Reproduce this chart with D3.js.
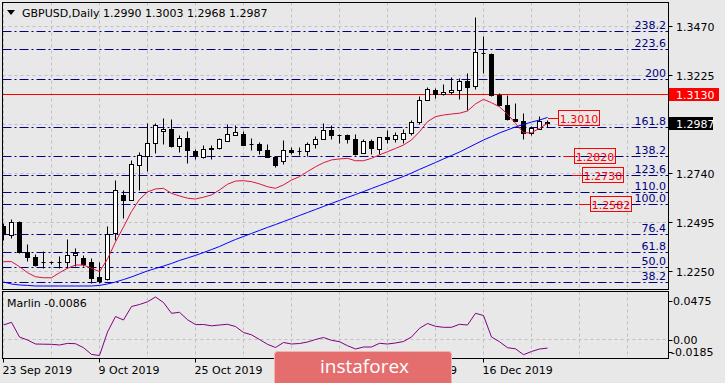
<!DOCTYPE html>
<html><head><meta charset="utf-8">
<script src="https://cdn.jsdelivr.net/npm/d3@7/dist/d3.min.js"></script>
<style>html,body{margin:0;padding:0;background:#e8e8e8;}svg{display:block;}</style>
</head><body><svg id="c" width="725" height="383"></svg>
<script>
// ---------- DATA ----------
const dates = ["23 Sep","24 Sep","25 Sep","26 Sep","27 Sep","30 Sep","1 Oct","2 Oct","3 Oct","4 Oct",
"7 Oct","8 Oct","9 Oct","10 Oct","11 Oct","14 Oct","15 Oct","16 Oct","17 Oct","18 Oct",
"21 Oct","22 Oct","23 Oct","24 Oct","25 Oct","28 Oct","29 Oct","30 Oct","31 Oct","1 Nov",
"4 Nov","5 Nov","6 Nov","7 Nov","8 Nov","11 Nov","12 Nov","13 Nov","14 Nov","15 Nov",
"18 Nov","19 Nov","20 Nov","21 Nov","22 Nov","25 Nov","26 Nov","27 Nov","28 Nov","29 Nov",
"2 Dec","3 Dec","4 Dec","5 Dec","6 Dec","9 Dec","10 Dec","11 Dec","12 Dec","13 Dec",
"16 Dec","17 Dec","18 Dec","19 Dec","20 Dec","23 Dec","24 Dec","26 Dec","27 Dec"];
const open = [1.2472,1.2431,1.2493,1.2346,1.2322,1.2296,1.2296,1.2294,1.2295,1.2328,
1.2317,1.2295,1.2219,1.2209,1.2439,1.2626,1.2603,1.2776,1.2821,1.2888,
1.2947,1.2957,1.2871,1.2912,1.2848,1.2818,1.2860,1.2863,1.2896,1.2927,
1.2929,1.2884,1.2884,1.2854,1.2818,1.2796,1.2854,1.2846,1.2846,1.2883,
1.2908,1.2950,1.2927,1.2927,1.2908,1.2838,1.2896,1.2859,1.2917,1.2908,
1.2908,1.2937,1.2992,1.3099,1.3149,1.3132,1.3141,1.3152,1.3192,1.3169,
1.3334,1.3330,1.3127,1.3074,1.3008,1.2995,1.2934,1.2957,1.2990];
const high = [1.2490,1.2507,1.2498,1.2386,1.2333,1.2349,1.2303,1.2325,1.2411,1.2363,
1.2328,1.2317,1.2295,1.2474,1.2705,1.2652,1.2801,1.2843,1.2987,1.2987,
1.3012,1.3007,1.2924,1.2945,1.2858,1.2879,1.2879,1.2912,1.2979,1.2977,
1.2944,1.2912,1.2893,1.2881,1.2821,1.2901,1.2868,1.2866,1.2891,1.2920,
1.2987,1.2975,1.2930,1.2930,1.2929,1.2908,1.2908,1.2917,1.2950,1.2940,
1.2954,1.3003,1.3122,1.3166,1.3161,1.3182,1.3213,1.3210,1.3232,1.3513,
1.3420,1.3334,1.3136,1.3127,1.3086,1.3037,1.2970,1.3020,1.3003];
const low = [1.2407,1.2416,1.2341,1.2303,1.2275,1.2267,1.2287,1.2267,1.2267,1.2275,
1.2278,1.2193,1.2193,1.2205,1.2404,1.2512,1.2603,1.2652,1.2747,1.2835,
1.2883,1.2866,1.2841,1.2788,1.2805,1.2811,1.2808,1.2858,1.2896,1.2927,
1.2878,1.2854,1.2831,1.2815,1.2767,1.2780,1.2830,1.2826,1.2821,1.2863,
1.2908,1.2904,1.2888,1.2888,1.2825,1.2838,1.2833,1.2833,1.2888,1.2891,
1.2888,1.2924,1.2979,1.3098,1.3111,1.3126,1.3132,1.3106,1.3050,1.3157,
1.3235,1.3119,1.3069,1.3003,1.2995,1.2904,1.2924,1.2957,1.2968];
const close = [1.2436,1.2493,1.2344,1.2322,1.2283,1.2294,1.2294,1.2296,1.2328,1.2338,
1.2288,1.2215,1.2200,1.2437,1.2654,1.2603,1.2783,1.2826,1.2888,1.2977,
1.2957,1.2871,1.2912,1.2851,1.2828,1.2858,1.2858,1.2904,1.2929,1.2939,
1.2878,1.2882,1.2851,1.2818,1.2775,1.2851,1.2841,1.2847,1.2884,1.2908,
1.2950,1.2927,1.2926,1.2904,1.2830,1.2896,1.2863,1.2917,1.2908,1.2924,
1.2937,1.2990,1.3101,1.3156,1.3132,1.3142,1.3152,1.3192,1.3164,1.3337,
1.3332,1.3127,1.3073,1.3007,1.2995,1.2937,1.2959,1.2995,1.2987];
const maRed = [1.2300,1.2300,1.2275,1.2245,1.2225,1.2220,1.2220,1.2245,1.2267,1.2283,
1.2283,1.2267,1.2250,1.2313,1.2398,1.2472,1.2549,1.2609,1.2646,1.2661,
1.2664,1.2639,1.2626,1.2615,1.2611,1.2620,1.2631,1.2656,1.2684,1.2700,
1.2702,1.2697,1.2686,1.2672,1.2664,1.2681,1.2705,1.2722,1.2747,1.2771,
1.2791,1.2805,1.2810,1.2813,1.2801,1.2801,1.2813,1.2830,1.2846,1.2862,
1.2879,1.2904,1.2945,1.2995,1.3020,1.3028,1.3033,1.3037,1.3048,1.3083,
1.3106,1.3089,1.3069,1.3032,1.2987,1.2940,1.2940,1.2962,1.2987];
const maBlue = [1.2199,1.2189,1.2184,1.2182,1.2179,1.2179,1.2179,1.2179,1.2179,1.2179,
1.2179,1.2179,1.2182,1.2189,1.2199,1.2211,1.2224,1.2239,1.2254,1.2266,
1.2278,1.2291,1.2306,1.2318,1.2331,1.2345,1.2360,1.2375,1.2393,1.2410,
1.2425,1.2440,1.2455,1.2470,1.2484,1.2499,1.2514,1.2529,1.2544,1.2559,
1.2574,1.2589,1.2604,1.2619,1.2633,1.2648,1.2663,1.2678,1.2693,1.2708,
1.2723,1.2740,1.2758,1.2775,1.2792,1.2810,1.2827,1.2844,1.2864,1.2884,
1.2904,1.2921,1.2939,1.2954,1.2969,1.2981,1.2993,1.3003,1.3016];
const marlin = [0.0145,0.0172,0.0025,-0.0005,-0.0045,-0.0047,-0.0048,-0.0055,-0.0039,-0.0042,
-0.0082,-0.0149,-0.0160,0.0075,0.0230,0.0195,0.0330,0.0350,0.0377,0.0425,
0.0370,0.0262,0.0272,0.0198,0.0149,0.0150,0.0137,0.0145,0.0152,0.0130,
0.0070,0.0047,0.0000,-0.0048,-0.0080,-0.0030,-0.0045,-0.0040,-0.0025,0.0000,
0.0020,-0.0008,-0.0022,-0.0062,-0.0095,-0.0075,-0.0075,-0.0038,-0.0045,-0.0035,
-0.0020,0.0025,0.0112,0.0160,0.0132,0.0122,0.0122,0.0152,0.0145,0.0262,
0.0240,0.0025,-0.0022,-0.0082,-0.0093,-0.0152,-0.0120,-0.0095,-0.0086];
const dateTickIdx = [0,12,24,36,48,60];
const dateTickLabels = ["23 Sep 2019","9 Oct 2019","25 Oct 2019","12 Nov 2019","28 Nov 2019","16 Dec 2019"];
const priceTicks = [1.3470,1.3225,1.2740,1.2495,1.2250];
const priceTickLabels = ["1.3470","1.3225","1.2740","1.2495","1.2250"];
const gridPrices = [1.3470,1.3225,1.2982,1.2740,1.2495,1.2250];
const fibLevels = [23.6,38.2,50.0,61.8,76.4,100.0,110.0,123.6,138.2,161.8,200,223.6,238.2];
const fibLabels = ["23.6","38.2","50.0","61.8","76.4","100.0","110.0","123.6","138.2","161.8","200","223.6","238.2"];
const fibBase = 1.1958, fibTop = 1.2582;
const resistance = 1.3130;
const bid = 1.2987;
const markPrices = [1.3010,1.2820,1.2730,1.2582];
const markLabels = ["1.3010","1.2820","1.2730","1.2582"];
const marlinTicks = [0.0475,0.0,-0.0185];
const marlinTickLabels = ["0.0475","0.00","-0.0185"];
const title = "GBPUSD,Daily", ohlcText = "1.2990 1.3003 1.2968 1.2987";
const marlinTitle = "Marlin -0.0086";

// ---------- LAYOUT ----------
const W=725,H=383;
const PL=2.5, PR=668.5, PT=2.5, PB=289.5, IT=291.5, IB=358.5;
const LOGO={x:274.5,y:351.5,w:177,h:40};
const FONT='"DejaVu Sans", sans-serif';
const svg=d3.select('#c');
const x=d3.scaleLinear().domain([0,83]).range([3.5,667.5]);
const y=d3.scaleLinear().domain([1.2250,1.3470]).range([271.7,26]);
const ym=d3.scaleLinear().domain([-0.0185,0.0475]).range([358,292]);
const sn=v=>Math.round(v-0.5)+0.5;

svg.append('rect').attr('width',W).attr('height',H).attr('fill','#e8e8e8');
const defs=svg.append('defs');
defs.append('clipPath').attr('id','cm').append('rect').attr('x',PL).attr('y',PT).attr('width',PR-PL).attr('height',PB-PT);
defs.append('clipPath').attr('id','ci').append('rect').attr('x',PL).attr('y',IT).attr('width',PR-PL).attr('height',IB-IT);
// date labels visible only outside the watermark
const cd=defs.append('clipPath').attr('id','cd');
cd.append('rect').attr('x',0).attr('y',IB).attr('width',LOGO.x).attr('height',H-IB);
cd.append('rect').attr('x',LOGO.x+LOGO.w+0.5).attr('y',IB).attr('width',W-LOGO.x-LOGO.w).attr('height',H-IB);

const gm=svg.append('g').attr('clip-path','url(#cm)');
const gi=svg.append('g').attr('clip-path','url(#ci)');

// grid
const gridIdx=d3.range(0,84,6);
[[gm,PT,PB],[gi,IT,IB]].forEach(([g,t,b])=>{
  g.selectAll(null).data(gridIdx).enter().append('line')
   .attr('x1',d=>sn(x(d))).attr('x2',d=>sn(x(d))).attr('y1',t).attr('y2',b)
   .attr('stroke','#c0c0c0').attr('stroke-dasharray','3,3');
});
gm.selectAll(null).data(gridPrices).enter().append('line')
  .attr('x1',PL).attr('x2',PR).attr('y1',d=>sn(y(d))).attr('y2',d=>sn(y(d)))
  .attr('stroke','#c0c0c0').attr('stroke-dasharray','3,3');
gi.append('line').attr('x1',PL).attr('x2',PR).attr('y1',sn(ym(0))).attr('y2',sn(ym(0)))
  .attr('stroke','#c0c0c0').attr('stroke-dasharray','3,3');

// fibo levels
const fibPrice=l=>fibBase+(fibTop-fibBase)*l/100;
gm.selectAll(null).data(fibLevels).enter().append('line')
  .attr('x1',PL).attr('x2',PR).attr('y1',d=>sn(y(fibPrice(d)))).attr('y2',d=>sn(y(fibPrice(d))))
  .attr('stroke','#000080').attr('stroke-dasharray','9,3,2,3');
gm.selectAll(null).data(fibLevels).enter().append('text')
  .attr('x',666).attr('y',d=>sn(y(fibPrice(d)))-2.5).attr('text-anchor','end')
  .attr('font-family',FONT).attr('font-size','11px').attr('fill','#000080')
  .text((d,i)=>fibLabels[i]);

// resistance line
gm.append('line').attr('x1',PL).attr('x2',PR).attr('y1',sn(y(resistance))).attr('y2',sn(y(resistance)))
  .attr('stroke','#ff0000');

// candles
const idx=d3.range(open.length);
const cg=gm.append('g');
idx.forEach(i=>{
  const cx=x(i);
  cg.append('line').attr('x1',cx).attr('x2',cx).attr('y1',sn(y(high[i]))).attr('y2',sn(y(low[i]))).attr('stroke','#000');
  const t=sn(y(Math.max(open[i],close[i]))), b=sn(y(Math.min(open[i],close[i])));
  if(b-t<1){
    cg.append('line').attr('x1',cx-2).attr('x2',cx+2).attr('y1',t).attr('y2',t).attr('stroke','#000');
  } else {
    cg.append('rect').attr('x',cx-2).attr('y',t).attr('width',4).attr('height',b-t)
      .attr('fill',close[i]>=open[i]?'#ffffff':'#000000').attr('stroke','#000');
  }
});

// moving averages
const lineP=d3.line().x((d,i)=>x(i)).y(d=>y(d));
gm.append('path').attr('d',lineP(maBlue)).attr('fill','none').attr('stroke','#0000ff').attr('stroke-width',1);
gm.append('path').attr('d',lineP(maRed)).attr('fill','none').attr('stroke','#dc143c').attr('stroke-width',1);

// price mark labels
const markBoxX=[558,574,582,590], markLineX=[548,564,572,579];
markPrices.forEach((p,i)=>{
  const yy=sn(y(p));
  gm.append('line').attr('x1',markLineX[i]).attr('x2',markBoxX[i]).attr('y1',yy).attr('y2',yy).attr('stroke','#ff0000');
  gm.append('rect').attr('x',markBoxX[i]+0.5).attr('y',yy-8).attr('width',41).attr('height',15)
    .attr('fill','none').attr('stroke','#ff0000');
  gm.append('text').attr('x',markBoxX[i]+21).attr('y',yy+4).attr('text-anchor','middle')
    .attr('font-family',FONT).attr('font-size','11px').attr('fill','#ff0000').text(markLabels[i]);
});

// marlin
gi.append('path').attr('d',d3.line().x((d,i)=>x(i)).y(d=>ym(d))(marlin))
  .attr('fill','none').attr('stroke','#800080').attr('stroke-width',1);

// borders
const bd=svg.append('g').attr('stroke','#000').attr('fill','none');
bd.append('rect').attr('x',PL).attr('y',PT).attr('width',PR-PL).attr('height',PB-PT);
bd.append('rect').attr('x',PL).attr('y',IT).attr('width',PR-PL).attr('height',IB-IT);

// price axis
priceTicks.forEach((p,i)=>{
  const yy=sn(y(p));
  svg.append('line').attr('x1',PR).attr('x2',PR+4).attr('y1',yy).attr('y2',yy).attr('stroke','#000');
  svg.append('text').attr('x',676).attr('y',yy+4).attr('font-family',FONT).attr('font-size','11px')
    .attr('fill','#000').text(priceTickLabels[i]);
});
// resistance & bid labels
[[resistance,'#ff0000',50],[bid,'#000000',44]].forEach(([p,c,w])=>{
  const yy=sn(y(p));
  svg.append('rect').attr('x',669).attr('y',yy-6.5).attr('width',w).attr('height',13).attr('fill',c);
  svg.append('text').attr('x',676).attr('y',yy+4).attr('font-family',FONT).attr('font-size','11px')
    .attr('fill','#fff').text(p.toFixed(4));
});

// marlin axis
const mLabY=[301,340,352];
marlinTicks.forEach((v,i)=>{
  svg.append('line').attr('x1',PR).attr('x2',PR+4).attr('y1',sn(mLabY[i])).attr('y2',sn(mLabY[i])).attr('stroke','#000');
  svg.append('text').attr('x',i==2?671:673).attr('y',mLabY[i]+4).attr('font-family',FONT).attr('font-size','11px')
    .attr('fill','#000').text(marlinTickLabels[i]);
});

// date axis
const dg=svg.append('g').attr('clip-path','url(#cd)');
dateTickIdx.forEach((d,i)=>{
  const xx=sn(x(d));
  svg.append('line').attr('x1',xx).attr('x2',xx).attr('y1',IB).attr('y2',IB+4).attr('stroke','#000');
  dg.append('text').attr('x',xx-1).attr('y',374).attr('font-family',FONT).attr('font-size','11px')
    .attr('fill','#000').text(dateTickLabels[i]);
});

// titles
svg.append('path').attr('d','M7,10 L15,10 L11,15 Z').attr('fill','#000');
svg.append('text').attr('x',22).attr('y',17).attr('font-family',FONT).attr('font-size','11px').text(title);
svg.append('text').attr('x',103).attr('y',17).attr('font-family',FONT).attr('font-size','11px').attr('xml:space','preserve').text(ohlcText);
svg.append('text').attr('x',7).attr('y',307).attr('font-family',FONT).attr('font-size','11px').text(marlinTitle);

// watermark logo
svg.append('rect').attr('x',LOGO.x).attr('y',LOGO.y).attr('width',LOGO.w).attr('height',LOGO.h).attr('rx',3)
  .attr('fill','#e46e6e').attr('stroke','#f3b3b3');
svg.append('text').attr('x',320).attr('y',373).attr('font-family','"Open Sans", sans-serif').attr('font-size','19px')
  .attr('fill','#ffffff').text('instaforex');
</script></body></html>
